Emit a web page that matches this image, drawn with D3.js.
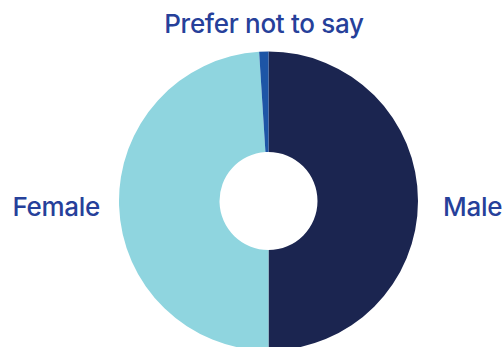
<!DOCTYPE html>
<html><head><meta charset="utf-8">
<script src="https://cdn.jsdelivr.net/npm/d3@7"></script>
<style>html,body{margin:0;padding:0;background:#fff;}svg{display:block;}</style>
</head><body>
<script>
const categories = ["Male", "Female", "Prefer not to say"];
const values = [50, 49, 1];
const colors = ["#1b2550", "#8fd5df", "#1d55a6"];

const W = 504, H = 347;
const cx = 268.5, cy = 201, outerR = 149.5, innerR = 49;
const svg = d3.select("body").append("svg").attr("width", W).attr("height", H);
const color = d3.scaleOrdinal().domain(categories).range(colors);
const data = categories.map((c, i) => ({cat: c, v: values[i]}));
const pie = d3.pie().sort(null).value(d => d.v);
const arc = d3.arc().innerRadius(innerR).outerRadius(outerR);
const g = svg.append("g").attr("transform", `translate(${cx},${cy})`);
g.selectAll("path").data(pie(data)).join("path")
  .attr("d", arc).attr("fill", d => color(d.data.cat));

const font = "Inter, sans-serif";
const labels = [
  {t: "Prefer not to say", x: 264, y: 33, a: "middle"},
  {t: "Female", x: 100, y: 216, a: "end"},
  {t: "Male", x: 443, y: 216, a: "start"}
];
svg.selectAll("text.lbl").data(labels).join("text").attr("class","lbl")
  .attr("x", d => d.x).attr("y", d => d.y).attr("text-anchor", d => d.a)
  .attr("font-family", font).attr("font-size", 26).attr("font-weight", 500)
  .attr("letter-spacing", -0.3)
  .attr("fill", "#26409a").text(d => d.t);
</script>
</body></html>
